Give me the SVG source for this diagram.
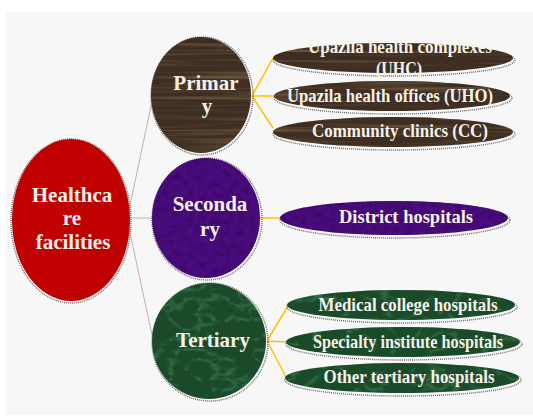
<svg xmlns="http://www.w3.org/2000/svg" width="533" height="416" viewBox="0 0 533 416">
  <defs>
    <!-- wood grain: faint horizontal streaks over dark brown -->
    <filter id="wood" x="-5%" y="-5%" width="110%" height="110%" color-interpolation-filters="sRGB">
      <feTurbulence type="fractalNoise" baseFrequency="0.006 0.3" numOctaves="2" seed="4" result="n"/>
      <feColorMatrix in="n" type="matrix" values="0 0 0 0 0.50  0 0 0 0 0.41  0 0 0 0 0.30  1.8 0 0 0 -0.85" result="c"/>
      <feComposite in="c" in2="SourceAlpha" operator="in" result="t"/>
      <feMerge><feMergeNode in="SourceGraphic"/><feMergeNode in="t"/></feMerge>
    </filter>
    <!-- soft mottling for the purple shapes -->
    <filter id="velvet" x="-5%" y="-5%" width="110%" height="110%" color-interpolation-filters="sRGB">
      <feTurbulence type="fractalNoise" baseFrequency="0.16" numOctaves="3" seed="7" result="n"/>
      <feColorMatrix in="n" type="matrix" values="0 0 0 0 0.22  0 0 0 0 0.02  0 0 0 0 0.36  -1.6 0 0 0 0.95" result="c"/>
      <feComposite in="c" in2="SourceAlpha" operator="in" result="t"/>
      <feMerge><feMergeNode in="SourceGraphic"/><feMergeNode in="t"/></feMerge>
    </filter>
    <!-- green marble with faint pale veins -->
    <filter id="marble" x="-5%" y="-5%" width="110%" height="110%" color-interpolation-filters="sRGB">
      <feTurbulence type="turbulence" baseFrequency="0.035 0.05" numOctaves="3" seed="11" result="n"/>
      <feColorMatrix in="n" type="matrix" values="0 0 0 0 0.30  0 0 0 0 0.56  0 0 0 0 0.38  -2.4 0 0 0 0.55" result="c"/>
      <feComposite in="c" in2="SourceAlpha" operator="in" result="t"/>
      <feMerge><feMergeNode in="SourceGraphic"/><feMergeNode in="t"/></feMerge>
    </filter>
  </defs>
  <style>
    .lbl { font-family: "Liberation Serif", "Times New Roman", serif; font-weight: bold; fill: #f6f1e8; text-anchor: middle; }
    .big { font-size: 21px; }
    .small { font-size: 19.5px; }
    .edge { fill: none; stroke: #6a6a6a; stroke-width: 1.4; stroke-dasharray: 1 1; }
    .wood { fill: #3e2e22; }
    .velvet { fill: #480c7c; }
    .marble { fill: #1a4a2a; }
    .trunk { stroke: #b5b5b5; stroke-width: 1; fill: none; }
    .branch { stroke: #ffc000; stroke-width: 1.5; fill: none; }
  </style>

  <rect width="533" height="416" fill="#ffffff"/>
  <rect x="6" y="12" width="527" height="403" fill="#f7f7f7"/>

  <g id="connectors">
    <line class="trunk" x1="129" y1="210" x2="151" y2="106"/>
    <line class="trunk" x1="130" y1="218" x2="152" y2="218"/>
    <line class="trunk" x1="129" y1="228" x2="152" y2="335"/>
    <path class="branch" d="M252,96 L273,58 M252,96 L274,96 M252,96 L273,128"/>
    <path class="branch" d="M260,218 L281,218"/>
    <path class="branch" d="M267,341 L288,306 M267,341 L288,342 M267,341 L286,377"/>
  </g>

  <g id="healthcare">
    <ellipse class="edge" cx="71" cy="221" rx="60" ry="82"/>
    <ellipse cx="71" cy="220" rx="59" ry="81" fill="#c00000"/>
    <text class="lbl big" x="72" y="202">Healthca</text>
    <text class="lbl big" x="72" y="225">re</text>
    <text class="lbl big" x="73" y="249">facilities</text>
  </g>

  <g id="primary">
    <ellipse class="edge" cx="202" cy="96" rx="51" ry="59"/>
    <ellipse class="wood" cx="201" cy="95" rx="50" ry="58" filter="url(#wood)"/>
    <text class="lbl big" x="206" y="90">Primar</text>
    <text class="lbl big" x="207" y="113">y</text>
  </g>

  <g id="secondary">
    <ellipse class="edge" cx="207" cy="219" rx="55" ry="61"/>
    <ellipse class="velvet" cx="206" cy="218" rx="54" ry="60" filter="url(#velvet)"/>
    <text class="lbl big" x="210" y="211">Seconda</text>
    <text class="lbl big" x="210" y="236">ry</text>
  </g>

  <g id="tertiary">
    <ellipse class="edge" cx="210" cy="342" rx="58" ry="59"/>
    <ellipse class="marble" cx="209" cy="341" rx="57" ry="58" filter="url(#marble)"/>
    <text class="lbl big" x="213" y="347">Tertiary</text>
  </g>

  <g id="uhc">
    <ellipse class="edge" cx="394" cy="60" rx="121" ry="16"/>
    <ellipse class="wood" cx="393" cy="58" rx="120" ry="15" filter="url(#wood)"/>
    <text class="lbl small" x="400" y="53" textLength="184" lengthAdjust="spacingAndGlyphs">Upazila health complexes</text>
    <text class="lbl small" x="399" y="75" textLength="46" lengthAdjust="spacingAndGlyphs">(UHC)</text>
  </g>

  <g id="uho">
    <ellipse class="edge" cx="393" cy="98" rx="119" ry="16"/>
    <ellipse class="wood" cx="392" cy="96" rx="118" ry="15" filter="url(#wood)"/>
    <text class="lbl small" x="390" y="102" textLength="206" lengthAdjust="spacingAndGlyphs">Upazila health offices (UHO)</text>
  </g>

  <g id="cc">
    <ellipse class="edge" cx="394" cy="134" rx="121" ry="16"/>
    <ellipse class="wood" cx="393" cy="132" rx="120" ry="15" filter="url(#wood)"/>
    <text class="lbl small" x="400" y="137" textLength="176" lengthAdjust="spacingAndGlyphs">Community clinics (CC)</text>
  </g>

  <g id="district">
    <ellipse class="edge" cx="395" cy="220" rx="115" ry="18"/>
    <ellipse class="velvet" cx="394" cy="218" rx="114" ry="17" filter="url(#velvet)"/>
    <text class="lbl small" x="406" y="223" textLength="134" lengthAdjust="spacingAndGlyphs">District hospitals</text>
  </g>

  <g id="medical">
    <ellipse class="edge" cx="402" cy="307" rx="115" ry="16"/>
    <ellipse class="marble" cx="401" cy="305" rx="114" ry="15" filter="url(#marble)"/>
    <text class="lbl small" x="408" y="311" textLength="179" lengthAdjust="spacingAndGlyphs">Medical college hospitals</text>
  </g>

  <g id="specialty">
    <ellipse class="edge" cx="404" cy="344" rx="118" ry="16"/>
    <ellipse class="marble" cx="403" cy="342" rx="117" ry="15" filter="url(#marble)"/>
    <text class="lbl small" x="408" y="348" textLength="190" lengthAdjust="spacingAndGlyphs">Specialty institute hospitals</text>
  </g>

  <g id="other">
    <ellipse class="edge" cx="403" cy="380" rx="118" ry="16"/>
    <ellipse class="marble" cx="402" cy="378" rx="117" ry="15" filter="url(#marble)"/>
    <text class="lbl small" x="409" y="383" textLength="171" lengthAdjust="spacingAndGlyphs">Other tertiary hospitals</text>
  </g>
</svg>
